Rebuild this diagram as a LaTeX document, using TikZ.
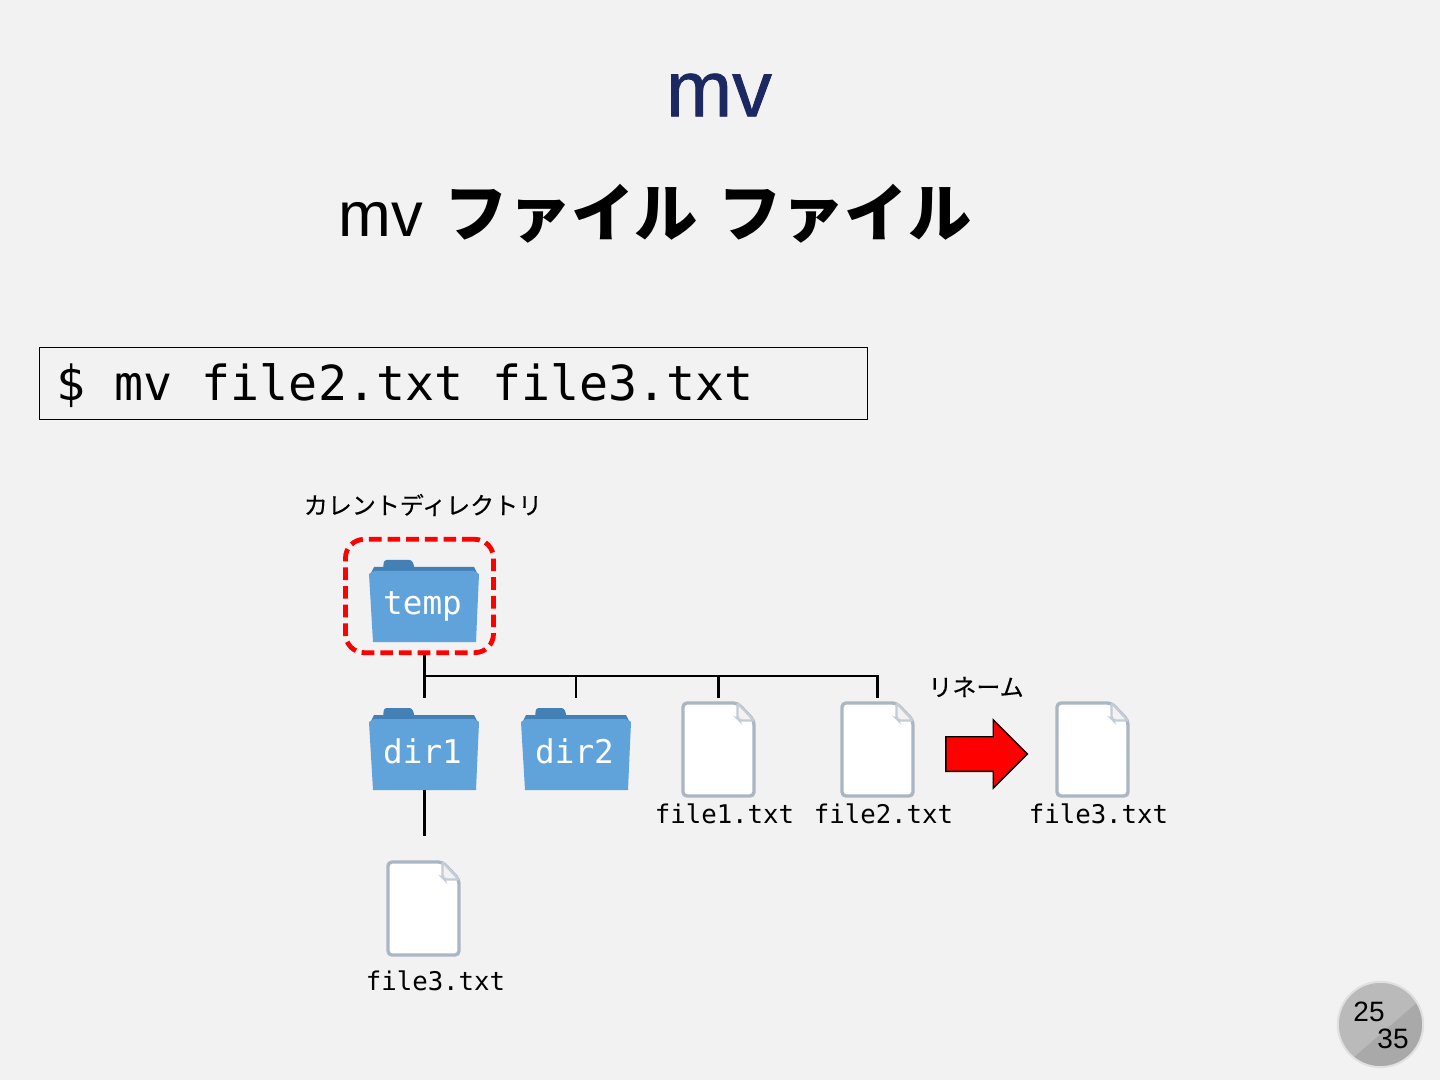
\documentclass[tikz,border=0pt]{standalone}
\usepackage{fontspec}
\setmainfont{Liberation Sans}
\setmonofont{DejaVu Sans Mono}
\newfontfamily\jpfont{Noto Sans CJK JP}
\newfontfamily\jpthick[FakeBold=.3]{Noto Sans CJK JP}
\newfontfamily\titlefont[FakeBold=1]{Liberation Sans}
\usepackage{xcolor}
\definecolor{pagegrey}{HTML}{F2F2F2}
\definecolor{titlenavy}{HTML}{1C2862}
\definecolor{folderblue}{HTML}{60A2DA}
\definecolor{folderdark}{HTML}{4280B6}
\definecolor{docgrey}{HTML}{ABB6C3}
\definecolor{badgelight}{HTML}{BABABA}
\definecolor{badgedark}{HTML}{A9A9A9}
\usetikzlibrary{positioning,shapes.arrows}

\begin{document}
\begin{tikzpicture}[x=.75pt,y=-.75pt,
  title/.style={font=\titlefont\fontsize{59.5}{60}\selectfont,text=titlenavy,inner sep=0pt},
  subtitle/.style={font=\fontsize{47.5}{50}\selectfont,anchor=west,inner sep=0pt},
  cmdbox/.style={draw=black,line width=.8pt,font=\ttfamily\fontsize{36.2}{40}\selectfont,
                 text width=595.5pt,align=flush left,inner xsep=12.75pt,minimum height=54pt,
                 text height=31pt,text depth=4.8pt},
  curbox/.style={draw=red,line width=3.6pt,dash pattern=on 9.5pt off 4.5pt,rounded corners=14pt,
                 minimum width=111pt,minimum height=85pt,inner sep=0pt},
  folderlbl/.style={text=white,font=\ttfamily\fontsize{24.5}{26}\selectfont,inner sep=0pt,
                    text height=18pt,text depth=5pt,minimum width=82pt,minimum height=61pt},
  doclbl/.style={font=\ttfamily\fontsize{19.3}{22}\selectfont,inner sep=0pt},
  docnode/.style={minimum width=55pt,minimum height=71pt,inner sep=0pt},
  jplbl/.style={font=\jpthick\fontsize{18}{20}\selectfont,inner sep=0pt},
  tree/.style={draw=black,line width=1.9pt},
  renamearr/.style={shape=single arrow,draw=black,fill=red,line width=1.1pt,inner sep=12.4pt,
                    single arrow head extend=12.6pt,minimum height=61pt,minimum width=50pt},
  badgenum/.style={font=\fontsize{21}{24}\selectfont,inner sep=0pt},
  folder/.pic={
    \fill[folderdark,rounded corners=2pt] (-41,-32) -- (-40,-41) -- (-12,-41) -- (-9,-32) -- cycle;
    \fill[folderdark] (-50,-34) -- (50,-34) -- (54,-26) -- (-54,-26) -- cycle;
    \fill[folderblue] (-55,-27) -- (-50,-30) -- (50,-30) -- (55,-27) -- (52,41) -- (-51,41) -- cycle;
  },
  doc/.pic={
    \draw[docgrey,fill=white,line width=2.5pt,rounded corners=3pt]
      (-35.5,-46.5) -- (19,-46.5) -- (35.5,-29) -- (35.5,46.5) -- (-35.5,46.5) -- cycle;
    \draw[docgrey!70,fill=pagegrey,line width=1.8pt,rounded corners=1.5pt]
      (19,-46.5) -- (19,-31) -- (21,-29) -- (35.5,-29) -- cycle;
  }]
\useasboundingbox[fill=pagegrey] (0,0) rectangle (1440,1080);

\node[title] (ttl) at (719,95) {mv};
\node[subtitle] (sub) at (338,214) {mv\hspace{3.5pt} {\jpfont\bfseries ファイル\hspace{4pt} ファイル}};
\node[cmdbox] (cmd) at (453.5,383.5) {\$ mv file2.txt file3.txt};

\node[jplbl] (curlbl) at (423,505) {カレントディレクトリ};
\foreach \name/\x/\y/\dy in {temp/424/601/5,dir1/424/749/6,dir2/576/749/6}{
  \pic at (\x,\y) {folder};
  \node[folderlbl] (\name) at (\x-1.5,\y+\dy) {\name};
}
\node[curbox] (cur) at (419.5,596) {};

\foreach \name/\txt/\x/\y/\dx/\dy in {fone/file1/718.5/749.5/6/64.5,ftwo/file2/877.5/749.5/6/64.5,
                              fnew/file3/1092.5/749.5/6/64.5,fsub/file3/423.5/908.5/12/72.5}{
  \pic at (\x,\y) {doc};
  \node[docnode] (\name) at (\x,\y) {};
  \node[doclbl] (\name lbl) at (\x+\dx,\y+\dy) {\txt.txt};
}

\coordinate (bus) at (424.5,676);
\draw[tree] (cur.south -| bus) -- (bus);
\draw[tree,shorten >=12.2pt] (bus) -- (dir1.north -| bus);
\draw[tree,shorten >=12.2pt] (bus) -| ([xshift=1.1pt]dir2.north);
\draw[tree,shorten >=3pt] (bus) -| (fone.north);
\draw[tree,shorten >=3pt] (bus) -| (ftwo.north);
\draw[tree,shorten <=-4.5pt,shorten >=18.5pt] (bus |- dir1.south) -- (bus |- fsub.north);

\node[jplbl] (renlbl) at (976,687) {リネーム};
\node[renamearr] (ren) at (978,754) {};

\begin{scope}
  \clip (1380.5,1024.5) circle[radius=42.5];
  \fill[badgelight] (1338,982) rectangle (1423,1067);
  \fill[badgedark] (1420,1000) -- (1353,1058) -- (1380,1080) -- (1440,1040) -- cycle;
\end{scope}
\node[circle,draw=black!12,line width=1.5pt,minimum size=64pt,inner sep=0pt] (badge) at (1380.5,1024.5) {};
\node[badgenum] (cnow) at (1369,1012) {25};
\node[badgenum] (ctot) at (1393,1039) {35};
\end{tikzpicture}
\end{document}
